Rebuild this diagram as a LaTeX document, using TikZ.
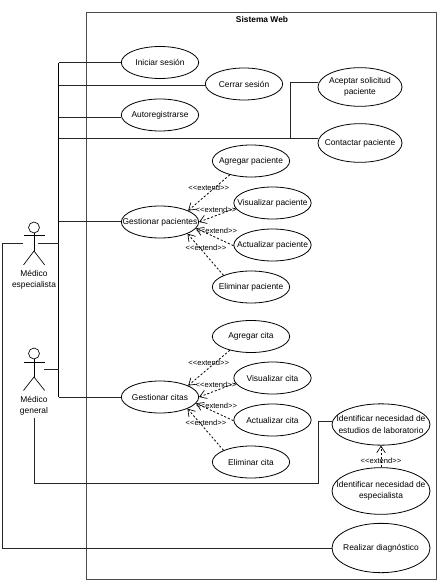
\documentclass[tikz,border=0pt]{standalone}
\usepackage{fontspec}
\setmainfont{Liberation Sans}
\usetikzlibrary{arrows.meta,shapes.geometric}
\tikzset{
  px/.style={x=0.75pt,y=-0.75pt},
  usecase/.style={draw=black,ellipse,line width=0.6pt,inner xsep=-20pt,inner ysep=-8pt,minimum width=58pt,minimum height=24pt,align=center,font=\fontsize{6.3pt}{8.5pt}\selectfont},
  usebig/.style={usecase,minimum width=63pt,minimum height=29pt},
  assoc/.style={draw=black!85,line width=0.6pt},
  extendline/.style={draw=black,line width=0.6pt,dash pattern=on 1.6pt off 1.4pt,-{Straight Barb[length=5pt,width=6.5pt,line width=0.5pt]}},
  extlabel/.style={inner sep=0pt,font=\fontsize{5.7pt}{7pt}\selectfont},
  actortext/.style={inner sep=0pt,align=center,font=\fontsize{6.3pt}{8pt}\selectfont},
  actorline/.style={draw=black,line width=0.5pt},
}
\begin{document}
\begin{tikzpicture}[px]
\useasboundingbox (0,0) rectangle (440,584);
\fill[white] (0,0) rectangle (440,584);
% system frame
\node[draw=black!70,line width=0.7pt,minimum width=262.5pt,minimum height=425.25pt,inner sep=0pt] (frame) at (261.75,295.5) {};
\node[inner sep=0pt,font=\bfseries\fontsize{6.3pt}{8pt}\selectfont] (title) at (262,20) {Sistema Web};
% use cases
\node[usecase] (iniciar) at (160,62.5) {Iniciar sesión};
\node[usecase] (cerrar) at (244,84) {Cerrar sesión};
\node[usecase] (auto) at (160,115) {Autoregistrarse};
\node[usebig] (aceptar) at (360,87) {Aceptar solicitud\\paciente};
\node[usebig] (contactar) at (360,143) {Contactar paciente};
\node[usecase] (gp) at (160,222) {Gestionar pacientes};
\node[usecase] (ap) at (251,161) {Agregar paciente};
\node[usecase] (vp) at (272.5,203) {Visualizar paciente};
\node[usecase] (up) at (272.5,245) {Actualizar paciente};
\node[usecase] (ep) at (251,287) {Eliminar paciente};
\node[usecase] (gc) at (160,397) {Gestionar citas};
\node[usecase] (ac) at (251,336.5) {Agregar cita};
\node[usecase] (vc) at (272.5,378) {Visualizar cita};
\node[usecase] (uc) at (272.5,420) {Actualizar cita};
\node[usecase] (ec) at (251,462) {Eliminar cita};
\node[usecase,minimum width=73.5pt,minimum height=31pt] (lab) at (381,424.5) {Identificar necesidad de\\estudios de laboratorio};
\node[usecase,minimum width=73.5pt,minimum height=35pt] (esp) at (381,491) {Identificar necesidad de\\especialista};
\node[usecase,minimum width=73.5pt,minimum height=37pt] (diag) at (381,548) {Realizar diagnóstico};
% actor: especialista
\node[draw=black,circle,line width=0.5pt,minimum size=8.2pt,inner sep=0pt] (headA) at (34,227.5) {};
\coordinate (hipA) at (34,251);
\coordinate (armLA) at (23.5,235.7);
\coordinate (armRA) at (44.7,235.7);
\coordinate (legLA) at (23.5,265);
\coordinate (legRA) at (44.7,265);
\draw[actorline] (headA) -- (hipA);
\draw[actorline] (armLA) -- (armRA);
\draw[actorline] (legLA) -- (hipA) -- (legRA);
\node[actortext] (txtA) at (34,279.5) {Médico\\especialista};
% actor: general
\node[draw=black,circle,line width=0.5pt,minimum size=8.2pt,inner sep=0pt] (headB) at (34,353.5) {};
\coordinate (hipB) at (34,377);
\coordinate (armLB) at (23.5,362);
\coordinate (armRB) at (44.7,362);
\coordinate (legLB) at (23.5,390.5);
\coordinate (legRB) at (44.7,390.5);
\draw[actorline] (headB) -- (hipB);
\draw[actorline] (armLB) -- (armRB);
\draw[actorline] (legLB) -- (hipB) -- (legRB);
\node[actortext] (txtB) at (34,405.5) {Médico\\general};
% trunk and associations
\coordinate (tTop) at (58.5,62.7);
\coordinate (tBot) at (58.5,397.3);
\coordinate (tCerrar) at (58.5,85.3);
\coordinate (tAuto) at (58.5,117);
\coordinate (tCont) at (58.5,138);
\coordinate (tGp) at (58.5,221.7);
\coordinate (tA) at (58.5,243.3);
\coordinate (tB) at (58.5,369.3);
\coordinate (bend) at (290,138);
\coordinate (bendUp) at (290,82.3);
\coordinate (aR) at (37.7,243.3);
\coordinate (aL) at (23,243.3);
\coordinate (aLb) at (2.7,243.3);
\coordinate (aLd) at (2.7,548);
\coordinate (bR) at (44.4,369.3);
\coordinate (bBot) at (34,418);
\coordinate (bB2) at (34,483);
\coordinate (bB3) at (318,483);
\coordinate (bB4) at (318,421.7);
\draw[assoc,black,line width=0.7pt] (tTop) -- (tBot);
\draw[assoc] (tTop) -- (tTop -| iniciar.west);
\draw[assoc] (tCerrar) -- (tCerrar -| cerrar.west);
\draw[assoc] (tAuto) -- (tAuto -| auto.west);
\draw[assoc] (tCont) -- (tCont -| contactar.west);
\draw[assoc] (bend) -- (bendUp) -- (bendUp -| aceptar.west);
\draw[assoc] (tGp) -- (tGp -| gp.west);
\draw[assoc] (tBot) -- (tBot -| gc.west);
\draw[assoc] (aR) -- (tA);
\draw[assoc] (bR) -- (tB);
\draw[assoc] (aL) -- (aLb) -- (aLd) -- (aLd -| diag.west);
\draw[assoc] (bBot) -- (bB2) -- (bB3) -- (bB4) -- (bB4 -| lab.west);
% extends: pacientes
\draw[extendline] (ap.213) -- (gp.22);
\draw[extendline] (vp.188) -- (gp.0);
\draw[extendline] (up.181) -- (gp.-10);
\draw[extendline] (ep.157) -- (gp.-23);
\node[extlabel] (l1) at (208.7,187.3) {<{}<extend>{}>};
\node[extlabel] (l2) at (216,209.3) {<{}<extend>{}>};
\node[extlabel] (l3) at (216.7,230.3) {<{}<extend>{}>};
\node[extlabel] (l4) at (206,248) {<{}<extend>{}>};
% extends: citas
\draw[extendline] (ac.213) -- (gc.22);
\draw[extendline] (vc.188) -- (gc.0);
\draw[extendline] (uc.181) -- (gc.-10);
\draw[extendline] (ec.157) -- (gc.-23);
\node[extlabel] (l5) at (208.7,362.3) {<{}<extend>{}>};
\node[extlabel] (l6) at (216,384.3) {<{}<extend>{}>};
\node[extlabel] (l7) at (216.7,405.3) {<{}<extend>{}>};
\node[extlabel] (l8) at (206,423) {<{}<extend>{}>};
% extend: laboratorio
\draw[extendline] (esp) -- (lab);
\node[extlabel] (l9) at (381,461) {<{}<extend>{}>};
\end{tikzpicture}
\end{document}
